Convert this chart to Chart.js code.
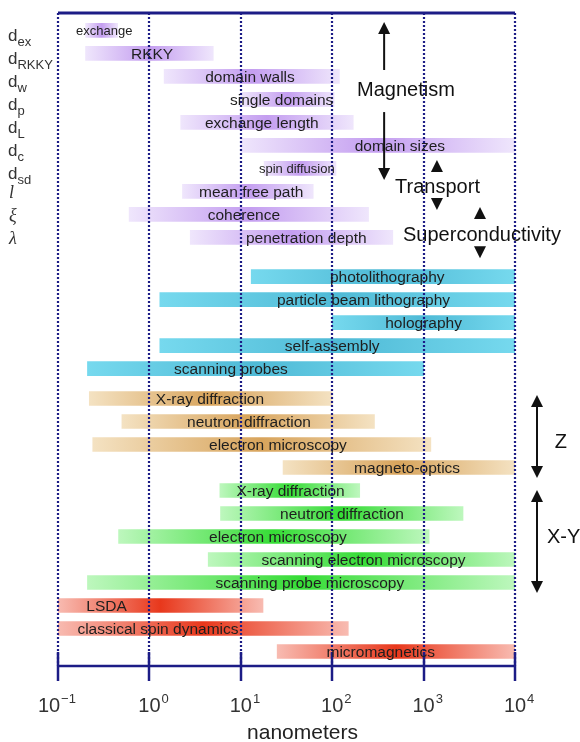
<!DOCTYPE html>
<html>
<head>
<meta charset="utf-8">
<script src="https://cdn.jsdelivr.net/npm/chart.js@4.4.0/dist/chart.umd.min.js"></script>
<style>
  html, body { margin: 0; padding: 0; background: #fff; }
  #wrap { width: 580px; height: 742px; position: relative; }
</style>
</head>
<body>
<div id="wrap"><canvas id="myChart"></canvas></div>
<script>
// rows top to bottom, ranges in nanometers
const labels = ['exchange', 'RKKY', 'domain walls', 'single domains', 'exchange length', 'domain sizes',
  'spin diffusion', 'mean free path', 'coherence', 'penetration depth',
  'photolithography', 'particle beam lithography', 'holography', 'self-assembly', 'scanning probes',
  'X-ray diffraction', 'neutron diffraction', 'electron microscopy', 'magneto-optics',
  'X-ray diffraction', 'neutron diffraction', 'electron microscopy', 'scanning electron microscopy', 'scanning probe microscopy',
  'LSDA', 'classical spin dynamics', 'micromagnetics'];
// 0 magnetism lengths, 1 fabrication, 2 Z probes, 3 X-Y probes, 4 simulation
const groups = [0, 0, 0, 0, 0, 0, 0, 0, 0, 0, 1, 1, 1, 1, 1, 2, 2, 2, 2, 3, 3, 3, 3, 3, 4, 4, 4];
const rangeFrom = [0.2, 0.2, 1.45, 10, 2.2, 10, 18, 2.3, 0.6, 2.8,
  13, 1.3, 100, 1.3, 0.21,
  0.22, 0.5, 0.24, 29,
  5.9, 6, 0.46, 4.4, 0.21,
  0.1, 0.1, 25];
const rangeTo = [0.45, 5, 120, 105, 170, 10000, 110, 62, 250, 460,
  10000, 10000, 10000, 10000, 1000,
  100, 290, 1200, 10000,
  200, 2700, 1150, 10000, 10000,
  17.5, 150, 10000];
// where each bar's text sits (nm)
const labelAt = [0.32, 1.07, 12.6, 28, 17, 550, 41, 13, 10.8, 52,
  400, 220, 1000, 100, 7.8,
  4.6, 12.3, 25.5, 660,
  35, 128, 25.5, 220, 57,
  0.34, 1.24, 340];
const symMain = ['d', 'd', 'd', 'd', 'd', 'd', 'd', 'l', 'ξ', 'λ'];
const symSub = ['ex', 'RKKY', 'w', 'p', 'L', 'c', 'sd', '', '', ''];
const xTicks = [0.1, 1, 10, 100, 1000, 10000];
const xExp = ['-1', '0', '1', '2', '3', '4'];

const groupGap = [0, 0.7, 1, 1, 1];
const palette = [
  ['#efe6fc', '#c49ef0'],
  ['#76d9ee', '#4fbad6'],
  ['#f4e2c2', '#d8a45c'],
  ['#bdf7bd', '#36dc36'],
  ['#f8bbb1', '#e8381c']
];
const navy = '#1c1c86';
const font = '"Liberation Sans", Arial, sans-serif';

const rows = labels.map((l, i) => ({ x: [rangeFrom[i], rangeTo[i]], y: i + groupGap[groups[i]] }));

function barFill(c) {
  const chart = c.chart;
  const i = c.dataIndex;
  if (!chart.chartArea || c.type !== 'data') return palette[0][1];
  const xs = chart.scales.x;
  const x0 = xs.getPixelForValue(rangeFrom[i]);
  const x1 = xs.getPixelForValue(rangeTo[i]);
  const [light, dark] = palette[groups[i]];
  const g = chart.ctx.createLinearGradient(x0, 0, x1, 0);
  g.addColorStop(0, light);
  g.addColorStop(0.5, dark);
  g.addColorStop(1, light);
  return g;
}

function head(c, x, y, dir) { // tip at (x, y), dir -1 points up, 1 points down
  c.beginPath();
  c.moveTo(x, y);
  c.lineTo(x - 6, y - dir * 12);
  c.lineTo(x + 6, y - dir * 12);
  c.closePath();
  c.fill();
}

function shaft(c, x, y0, y1) {
  c.beginPath();
  c.moveTo(x, y0);
  c.lineTo(x, y1);
  c.stroke();
}

const decor = {
  id: 'decor',
  afterDatasetsDraw(chart) {
    const c = chart.ctx, xs = chart.scales.x, ys = chart.scales.y, area = chart.chartArea;
    const X = v => xs.getPixelForValue(v), Y = v => ys.getPixelForValue(v);
    const meta = chart.getDatasetMeta(0);
    c.save();

    // dotted decade lines
    c.strokeStyle = navy;
    c.lineWidth = 2.2;
    c.setLineDash([2, 2]);
    xTicks.forEach(t => {
      const x = Math.round(X(t));
      c.beginPath(); c.moveTo(x, area.top); c.lineTo(x, area.bottom); c.stroke();
    });
    c.setLineDash([]);

    // top frame and axis
    c.lineWidth = 3;
    c.beginPath(); c.moveTo(area.left, area.top); c.lineTo(area.right, area.top); c.stroke();
    c.lineWidth = 2.5;
    c.beginPath(); c.moveTo(area.left, area.bottom); c.lineTo(area.right, area.bottom); c.stroke();
    xTicks.forEach(t => {
      const x = Math.round(X(t));
      c.beginPath(); c.moveTo(x, area.bottom - 14); c.lineTo(x, area.bottom + 15); c.stroke();
    });

    // tick labels 10^n
    c.fillStyle = '#333';
    c.textBaseline = 'alphabetic';
    c.textAlign = 'left';
    xTicks.forEach((t, i) => {
      c.font = '20px ' + font;
      const w = c.measureText('10').width;
      const x0 = X(t) - w / 2 - (xExp[i].startsWith('-') ? 9 : 0);
      c.fillText('10', x0, area.bottom + 46);
      c.font = '13px ' + font;
      c.fillText(xExp[i].replace('-', '\u2212'), x0 + w + 1, area.bottom + 37);
    });
    c.font = '21px ' + font;
    c.textAlign = 'center';
    c.fillStyle = '#222';
    c.fillText('nanometers', (area.left + area.right) / 2 + 16, area.bottom + 73);

    // bar texts
    c.textBaseline = 'middle';
    c.fillStyle = '#1e1e1e';
    labels.forEach((l, i) => {
      const small = i === 0 || i === 6;
      c.font = (small ? '13px ' : '15.5px ') + font;
      c.fillText(l, X(labelAt[i]), meta.data[i].y + 1);
    });

    // symbols on the left
    c.textAlign = 'left';
    c.textBaseline = 'alphabetic';
    c.fillStyle = '#333';
    symMain.forEach((s, i) => {
      const y = meta.data[i].y;
      if (symSub[i]) {
        c.font = '17px ' + font;
        c.fillText(s, 8, y + 11);
        const w = c.measureText(s).width;
        c.font = '13px ' + font;
        c.fillText(symSub[i], 8 + w, y + 16);
      } else {
        c.font = 'italic 18px "Liberation Serif", "DejaVu Serif", serif';
        c.fillText(s, 9, y + 7);
      }
    });

    // arrows and category names
    c.fillStyle = '#111';
    c.strokeStyle = '#111';
    c.lineWidth = 2;
    const xm = X(370);
    shaft(c, xm, Y(1.72), Y(-0.37) + 10); head(c, xm, Y(-0.37), -1);
    shaft(c, xm, Y(3.55), Y(6.5) - 10); head(c, xm, Y(6.5), 1);
    head(c, X(1400), Y(5.63), -1); head(c, X(1400), Y(7.81), 1);
    head(c, X(4140), Y(7.68), -1); head(c, X(4140), Y(9.9), 1);
    const xz = X(17400);
    shaft(c, xz, Y(15.85) + 10, Y(19.46) - 10); head(c, xz, Y(15.85), -1); head(c, xz, Y(19.46), 1);
    shaft(c, xz, Y(19.98) + 10, Y(24.46) - 10); head(c, xz, Y(19.98), -1); head(c, xz, Y(24.46), 1);

    c.font = '20px ' + font;
    c.textAlign = 'center';
    c.textBaseline = 'middle';
    c.fillText('Magnetism', X(640), Y(2.63));
    c.fillText('Transport', X(1420), Y(6.81));
    c.fillText('Superconductivity', X(4350), Y(8.9));
    c.fillText('Z', X(31800), Y(17.9));
    c.fillText('X-Y', X(34000), Y(22.03));
    c.restore();
  }
};

const ctx = document.getElementById('myChart');
new Chart(ctx, {
  type: 'bar',
  data: {
    labels: labels,
    datasets: [{
      data: rows,
      backgroundColor: barFill,
      borderWidth: 0,
      barThickness: 14
    }]
  },
  options: {
    indexAxis: 'y',
    responsive: true,
    maintainAspectRatio: false,
    animation: false,
    layout: { padding: { left: 58, right: 65, top: 13, bottom: 76 } },
    scales: {
      x: { type: 'logarithmic', min: 0.1, max: 10000, display: false },
      y: { type: 'linear', reverse: true, min: -0.757, max: 27.63, offset: false, grace: 0, display: false }
    },
    plugins: {
      legend: { display: false },
      tooltip: { enabled: false }
    }
  },
  plugins: [decor]
});
</script>
</body>
</html>
